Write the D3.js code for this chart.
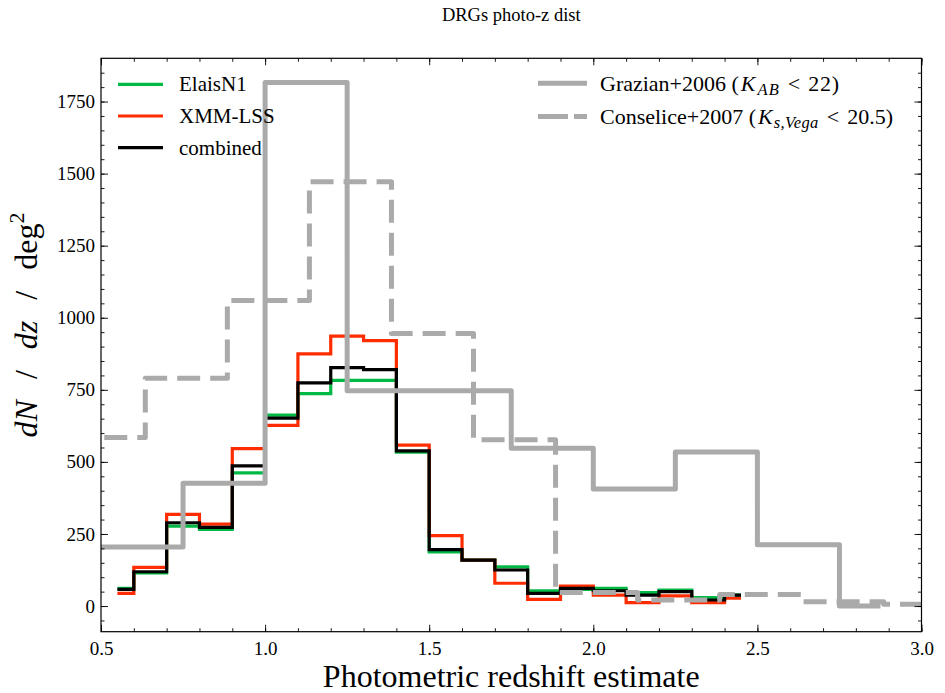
<!DOCTYPE html>
<html><head><meta charset="utf-8">
<script src="https://cdn.jsdelivr.net/npm/d3@7"></script>
<style>
body{margin:0;background:#fff}
text{font-family:"Liberation Serif","Times New Roman",serif;fill:#000}
</style>
</head><body>
<svg id="chart" width="945" height="693"></svg>
<script>
// ---------------- data ----------------
const binCenters = [0.55,0.65,0.75,0.85,0.95,1.05,1.15,1.25,1.35,1.45,1.55,1.65,1.75,1.85,1.95,2.05,2.15,2.25,2.35,2.45];
const elaisN1  = [61,115,277,266,462,662,737,783,783,534,188,159,136,53,58,61,47,55,29,38];
const xmmLss   = [44,134,318,284,546,627,875,936,921,558,244,159,79,23,69,38,12,35,12,27];
const combined = [58,119,289,273,486,652,774,827,820,538,196,159,125,44,61,53,38,50,21,38];

const grazianCenters = [0.375,0.625,0.875,1.125,1.375,1.625,1.875,2.125,2.375,2.625,2.875];
const grazian        = [205,205,426,1816,747,747,547,406,534,213,0];

const conseliceCenters = [0.51,0.76,1.01,1.26,1.51,1.76,2.01,2.26,2.51,2.76,3.01];
const conselice        = [585,790,1060,1472,945,577,47,21,40,15,6];

const xTicks = [0.5,1.0,1.5,2.0,2.5,3.0];
const xTickLabels = ["0.5","1.0","1.5","2.0","2.5","3.0"];
const yTicks = [0,250,500,750,1000,1250,1500,1750];
const yTickLabels = ["0","250","500","750","1000","1250","1500","1750"];

const seriesNames = ["ElaisN1","XMM-LSS","combined"];
const seriesColors = ["#00B945","#FF2C00","#000000"];

// ---------------- layout ----------------
const svg = d3.select("#chart");
const L = 101, R = 921.5, T = 58.3, B = 631.7;
const x = d3.scaleLinear().domain([0.5,3.0]).range([L,R]);
const y = d3.scaleLinear().domain([-89,1900]).range([B,T]);

svg.append("defs").append("clipPath").attr("id","plotclip")
  .append("rect").attr("x",L).attr("y",T).attr("width",R-L).attr("height",B-T);

const plot = svg.append("g").attr("clip-path","url(#plotclip)");

const step = (xs) => d3.line().x((d,i)=>x(xs[i])).y(d=>y(d)).curve(d3.curveStep);

[elaisN1, xmmLss, combined].forEach((vals,k)=>{
  plot.append("path").datum(vals)
    .attr("d", step(binCenters))
    .attr("fill","none").attr("stroke",seriesColors[k]).attr("stroke-width",3.2)
    .attr("stroke-linejoin","miter");
});

plot.append("path").datum(grazian)
  .attr("d", step(grazianCenters))
  .attr("fill","none").attr("stroke","#aaaaaa").attr("stroke-width",5)
  .attr("stroke-linejoin","round");

plot.append("path").datum(conselice)
  .attr("d", step(conseliceCenters))
  .attr("fill","none").attr("stroke","#aaaaaa").attr("stroke-width",5)
  .attr("stroke-dasharray","23,10").attr("stroke-linejoin","round");

// ---------------- axes ----------------
const xMinor = d3.range(0.5,3.0001,0.1);
const yMinor = d3.range(-50,1900,50);

function styleAxis(g){
  g.select(".domain").remove();
  g.selectAll(".tick line").attr("stroke","#000").attr("stroke-width",0.9);
  g.selectAll(".tick text").style("font-family","'Liberation Serif',serif").style("font-size","19px").attr("fill","#000");
}
// bottom
svg.append("g").attr("transform",`translate(0,${B})`)
  .call(d3.axisBottom(x).tickValues(xMinor).tickSize(-3.5).tickFormat("")).call(styleAxis);
svg.append("g").attr("transform",`translate(0,${B})`)
  .call(d3.axisBottom(x).tickValues(xTicks).tickSize(-7).tickPadding(10).tickFormat((d,i)=>xTickLabels[i])).call(styleAxis);
// top
svg.append("g").attr("transform",`translate(0,${T})`)
  .call(d3.axisTop(x).tickValues(xMinor).tickSize(-3.5).tickFormat("")).call(styleAxis);
svg.append("g").attr("transform",`translate(0,${T})`)
  .call(d3.axisTop(x).tickValues(xTicks).tickSize(-7).tickFormat("")).call(styleAxis);
// left
svg.append("g").attr("transform",`translate(${L},0)`)
  .call(d3.axisLeft(y).tickValues(yMinor).tickSize(-3.5).tickFormat("")).call(styleAxis);
svg.append("g").attr("transform",`translate(${L},0)`)
  .call(d3.axisLeft(y).tickValues(yTicks).tickSize(-7).tickPadding(6).tickFormat((d,i)=>yTickLabels[i])).call(styleAxis);
// right
svg.append("g").attr("transform",`translate(${R},0)`)
  .call(d3.axisRight(y).tickValues(yMinor).tickSize(-3.5).tickFormat("")).call(styleAxis);
svg.append("g").attr("transform",`translate(${R},0)`)
  .call(d3.axisRight(y).tickValues(yTicks).tickSize(-7).tickFormat("")).call(styleAxis);

svg.append("rect").attr("x",L).attr("y",T).attr("width",R-L).attr("height",B-T)
  .attr("fill","none").attr("stroke","#000").attr("stroke-width",1.2);

// ---------------- texts ----------------
svg.append("text").attr("x",(L+R)/2).attr("y",21).attr("text-anchor","middle")
  .style("font-size","18.5px").text("DRGs photo-z dist");

svg.append("text").attr("x",(L+R)/2).attr("y",687).attr("text-anchor","middle")
  .style("font-size","32px").text("Photometric redshift estimate");

const yl = svg.append("text").attr("transform","translate(37,325) rotate(-90)")
  .attr("text-anchor","middle").style("font-size","32px");
yl.append("tspan").style("font-style","italic").text("dN");
yl.append("tspan").attr("dx",21).text("/");
yl.append("tspan").attr("dx",21).style("font-style","italic").text("dz");
yl.append("tspan").attr("dx",21).text("/");
yl.append("tspan").attr("dx",21).text("deg");
yl.append("tspan").attr("dy",-13).style("font-size","22px").text("2");

// ---------------- legends ----------------
const legY = [84.3,116,147.7];
seriesNames.forEach((n,k)=>{
  svg.append("line").attr("x1",118).attr("x2",163).attr("y1",legY[k]).attr("y2",legY[k])
    .attr("stroke",seriesColors[k]).attr("stroke-width",3.2);
  svg.append("text").attr("x",179).attr("y",legY[k]).attr("dy","0.34em")
    .style("font-size","21px").text(n);
});

const rl = [83.3,116.5];
svg.append("line").attr("x1",538).attr("x2",587).attr("y1",rl[0]).attr("y2",rl[0])
  .attr("stroke","#aaaaaa").attr("stroke-width",5);
svg.append("line").attr("x1",538).attr("x2",587).attr("y1",rl[1]).attr("y2",rl[1])
  .attr("stroke","#aaaaaa").attr("stroke-width",5).attr("stroke-dasharray","30,6");

const t1 = svg.append("text").attr("x",600).attr("y",rl[0]).attr("dy","0.34em").style("font-size","22px");
t1.append("tspan").text("Grazian+2006 (");
t1.append("tspan").attr("dx",2).style("font-style","italic").text("K");
t1.append("tspan").attr("dy",4).attr("dx",2).style("font-style","italic").style("font-size","16.5px").attr("letter-spacing","1").text("AB");
t1.append("tspan").attr("dy",-4).attr("dx",8).text("<");
t1.append("tspan").attr("dx",8).attr("letter-spacing","0.8").text("22)");

const t2 = svg.append("text").attr("x",600).attr("y",rl[1]).attr("dy","0.34em").style("font-size","22px");
t2.append("tspan").text("Conselice+2007 (");
t2.append("tspan").attr("dx",2).style("font-style","italic").text("K");
t2.append("tspan").attr("dy",4).attr("dx",1).style("font-style","italic").style("font-size","16.5px").attr("letter-spacing","0.4").text("s,Vega");
t2.append("tspan").attr("dy",-4).attr("dx",8).text("<");
t2.append("tspan").attr("dx",8).text("20.5)");
</script>
</body></html>
